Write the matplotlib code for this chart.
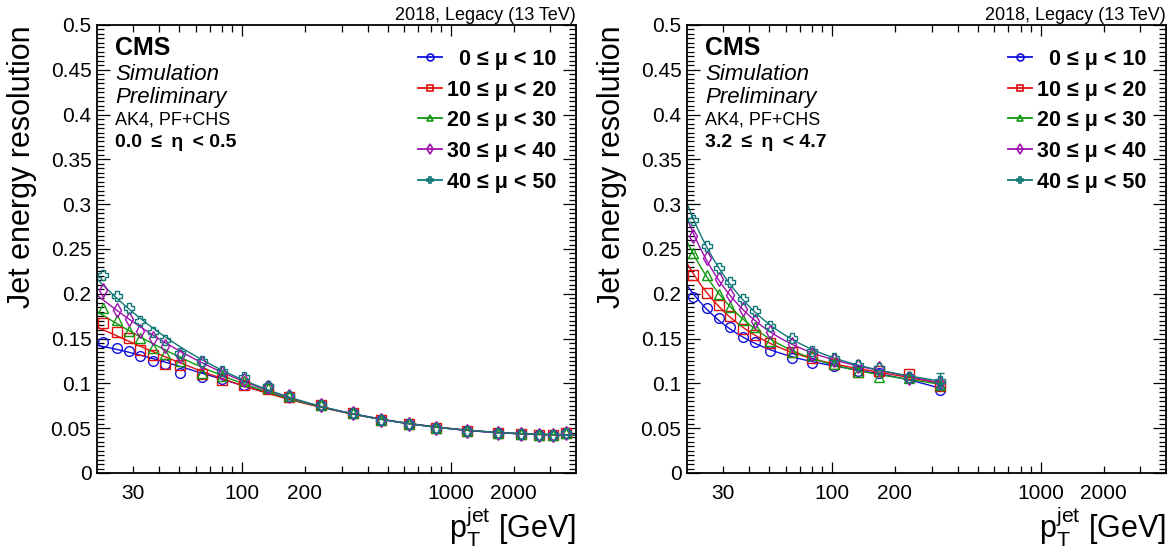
import numpy as np
import matplotlib
matplotlib.use("Agg")
import matplotlib.pyplot as plt
from matplotlib.ticker import FixedLocator, FixedFormatter, MultipleLocator, FuncFormatter

plt.rcParams["font.family"] = ["Liberation Sans", "DejaVu Sans"]
plt.rcParams["mathtext.fontset"] = "custom"
plt.rcParams["mathtext.rm"] = "Liberation Sans"
plt.rcParams["mathtext.it"] = "Liberation Sans:italic"
plt.rcParams["mathtext.bf"] = "Liberation Sans:bold"

# pileup bins
mu_labels = ["0 \u2264 \u03bc < 10", "10 \u2264 \u03bc < 20", "20 \u2264 \u03bc < 30",
             "30 \u2264 \u03bc < 40", "40 \u2264 \u03bc < 50"]
colors = ["#1010e0", "#e01010", "#109910", "#a010b0", "#107878"]
markers = ["o", "s", "^", "d", "P"]

# 0.0 <= eta < 0.5
pt_left = [21.6, 25.1, 28.6, 32.5, 37.4, 42.6, 50.2, 64.1, 79.8, 102, 133, 168,
           240, 340, 461, 630, 845, 1197, 1678, 2170, 2636, 3088, 3562]
res_left_mu0 = [0.1467, 0.1400, 0.1363, 0.1306, 0.1250, 0.1220, 0.1111, 0.1070, 0.1044, 0.0987, 0.0957, 0.0852,
                0.0760, 0.0668, 0.0593, 0.0544, 0.0507, 0.0470, 0.0450, 0.0431, 0.0425, 0.0425, 0.0443]
res_left_mu10 = [0.1670, 0.1577, 0.1505, 0.1370, 0.1318, 0.1220, 0.1205, 0.1100, 0.1036, 0.0987, 0.0938, 0.0853,
                 0.0761, 0.0668, 0.0593, 0.0544, 0.0507, 0.0470, 0.0450, 0.0431, 0.0425, 0.0425, 0.0443]
res_left_mu20 = [0.1843, 0.1708, 0.1588, 0.1505, 0.1400, 0.1332, 0.1250, 0.1118, 0.1081, 0.1025, 0.0950, 0.0855,
                 0.0762, 0.0668, 0.0593, 0.0544, 0.0507, 0.0470, 0.0450, 0.0431, 0.0425, 0.0425, 0.0443]
res_left_mu30 = [0.2046, 0.1820, 0.1720, 0.1588, 0.1512, 0.1419, 0.1306, 0.1231, 0.1118, 0.1033, 0.0960, 0.0856,
                 0.0762, 0.0668, 0.0593, 0.0544, 0.0507, 0.0470, 0.0450, 0.0431, 0.0425, 0.0425, 0.0443]
res_left_mu40 = [0.2207, 0.1970, 0.1843, 0.1700, 0.1569, 0.1483, 0.1344, 0.1250, 0.1137, 0.1070, 0.0968, 0.0858,
                 0.0763, 0.0669, 0.0594, 0.0545, 0.0507, 0.0470, 0.0450, 0.0431, 0.0425, 0.0425, 0.0443]

# 3.2 <= eta < 4.7
pt_right = [21.6, 25.1, 28.6, 32.5, 37.4, 42.6, 50.2, 64.1, 79.8, 102, 133, 168, 235, 330]
res_right_mu0 = [0.1963, 0.1839, 0.1726, 0.1633, 0.1520, 0.1464, 0.1363, 0.1287, 0.1231, 0.1194, 0.1137, 0.1118, 0.1062, 0.0930]
res_right_mu10 = [0.2215, 0.2008, 0.1880, 0.1757, 0.1607, 0.1543, 0.1456, 0.1351, 0.1287, 0.1213, 0.1126, 0.1137, 0.1100, 0.0976]
res_right_mu20 = [0.2451, 0.2207, 0.1993, 0.1858, 0.1708, 0.1633, 0.1475, 0.1355, 0.1318, 0.1220, 0.1130, 0.1074, 0.1062, 0.0987]
res_right_mu30 = [0.2646, 0.2395, 0.2170, 0.1990, 0.1832, 0.1700, 0.1577, 0.1438, 0.1325, 0.1258, 0.1194, 0.1175, 0.1062, 0.1006]
res_right_mu40 = [0.2819, 0.2534, 0.2290, 0.2128, 0.1940, 0.1805, 0.1644, 0.1502, 0.1363, 0.1280, 0.1201, 0.1175, 0.1074, 0.1025]
err_right_mu40 = [0, 0, 0, 0, 0, 0, 0, 0, 0, 0, 0, 0, 0, 0.009]

panels = [
    (pt_left, [res_left_mu0, res_left_mu10, res_left_mu20, res_left_mu30, res_left_mu40],
     "0.0\u2009 \u2264 \u2009\u03b7\u2009 < 0.5", 4000),
    (pt_right, [res_right_mu0, res_right_mu10, res_right_mu20, res_right_mu30, res_right_mu40],
     "3.2\u2009 \u2264 \u2009\u03b7\u2009 < 4.7", 340),
]

fig = plt.figure(figsize=(11.73, 5.52), dpi=100)
ax_left = fig.add_axes([97 / 1173, 1 - 473 / 552, 479 / 1173, 448 / 552])
ax_right = fig.add_axes([687 / 1173, 1 - 473 / 552, 479 / 1173, 448 / 552])

for ax, (pt, series, eta_text, fit_max) in zip([ax_left, ax_right], panels):
    ax.set_xscale("log")
    ax.set_xlim(20.2, 3980)
    ax.set_ylim(0, 0.5)

    for i, res in enumerate(series):
        # smooth fit drawn through the points (log-log cubic)
        coef = np.polyfit(np.log(pt), np.log(res), 3)
        xf = np.geomspace(20.2, fit_max, 200)
        ax.plot(xf, np.exp(np.polyval(coef, np.log(xf))), color=colors[i], lw=1.0, zorder=2)
        ax.plot(pt, res, ls="none", marker=markers[i], ms=7, mfc="none", mec=colors[i],
                mew=1.0, zorder=3)
    if ax is ax_right:
        ax.errorbar(pt[-1:], series[4][-1:], yerr=err_right_mu40[-1:], fmt="none",
                    ecolor=colors[4], elinewidth=1.0, capsize=3, zorder=3)

    # axes styling, ROOT-like
    for sp in ax.spines.values():
        sp.set_linewidth(1.3)
    ax.xaxis.set_major_locator(FixedLocator([100, 1000]))
    ax.xaxis.set_major_formatter(FixedFormatter(["100", "1000"]))
    minor = [30, 40, 50, 60, 70, 80, 90, 200, 300, 400, 500, 600, 700, 800, 900, 2000, 3000]
    ax.xaxis.set_minor_locator(FixedLocator(minor))
    ax.xaxis.set_minor_formatter(FixedFormatter(["30", "", "", "", "", "", "", "200", "", "", "", "",
                                                 "", "", "", "2000", ""]))
    ax.yaxis.set_major_locator(MultipleLocator(0.05))
    ax.yaxis.set_minor_locator(MultipleLocator(0.005))
    ax.yaxis.set_major_formatter(FuncFormatter(lambda v, p: "%g" % round(v, 3)))
    ax.tick_params(which="both", direction="in", top=True, right=True, labelsize=15, width=0.9)
    ax.tick_params(axis="x", which="major", length=8, pad=8)
    ax.tick_params(axis="x", which="minor", length=5, pad=8)
    ax.tick_params(axis="y", which="major", length=9.5, pad=4)
    ax.tick_params(axis="y", which="minor", length=5)

    ax.set_ylabel("Jet energy resolution", fontsize=22, loc="top")
    ax.yaxis.set_label_coords(-0.125, 1.0)
    ax.set_xlabel(r"$\mathrm{p}_{\mathrm{T}}^{\mathrm{jet}}$ [GeV]", fontsize=22, loc="right")
    ax.xaxis.set_label_coords(1.0, -0.072)

    ax.text(1.0, 1.003, "2018, Legacy (13 TeV)", transform=ax.transAxes, ha="right", va="bottom",
            fontsize=13)
    ax.text(0.0376, 0.933, "CMS", transform=ax.transAxes, fontsize=18, fontweight="bold")
    ax.text(0.0376, 0.877, "Simulation", transform=ax.transAxes, fontsize=16, style="italic")
    ax.text(0.0376, 0.826, "Preliminary", transform=ax.transAxes, fontsize=16, style="italic")
    ax.text(0.0376, 0.778, "AK4, PF+CHS", transform=ax.transAxes, fontsize=13)
    ax.text(0.0376, 0.728, eta_text, transform=ax.transAxes, fontsize=14, fontweight="bold")

    # legend drawn by hand so the labels are right aligned
    leg_y = [0.928, 0.859, 0.792, 0.7225, 0.654]
    for i, y in enumerate(leg_y):
        ax.plot([0.6695, 0.7196], [y, y], color=colors[i], lw=1.3, transform=ax.transAxes,
                clip_on=False)
        ax.plot([0.695], [y], marker=markers[i], ms=5, mfc="none", mec=colors[i], mew=1.2,
                transform=ax.transAxes, clip_on=False)
        ax.text(0.9597, y - 0.0172, mu_labels[i], transform=ax.transAxes, ha="right",
                fontsize=15.5, fontweight="bold")

fig.savefig("out.png", dpi=100)
